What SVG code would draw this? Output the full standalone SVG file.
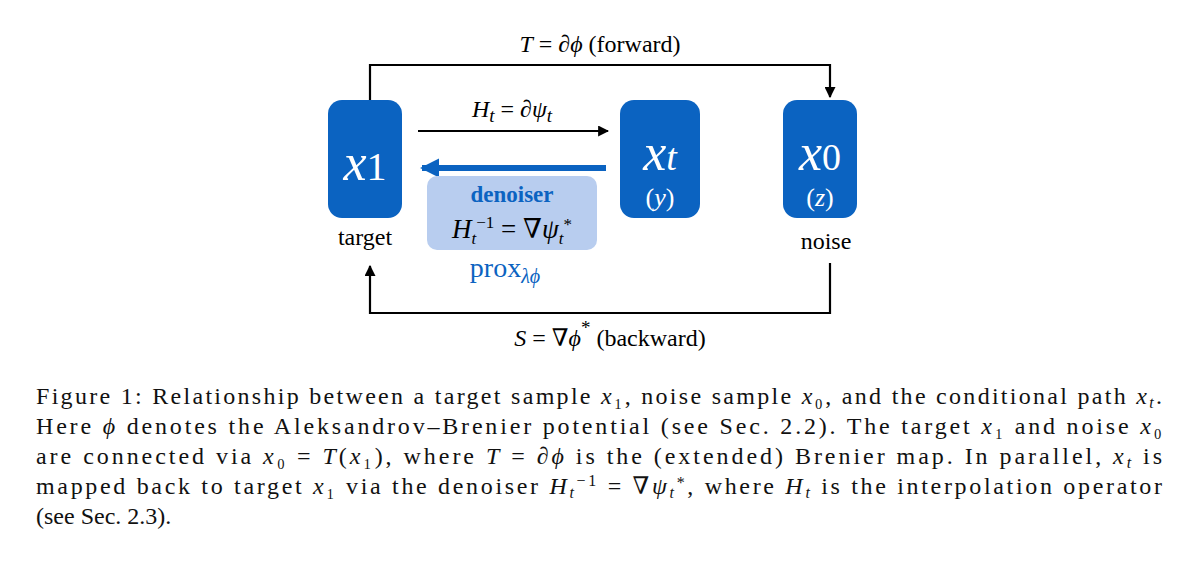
<svg xmlns="http://www.w3.org/2000/svg" width="1200" height="568" viewBox="0 0 1200 568">
<style>
.s{font-family:"Liberation Serif","DejaVu Serif",serif;}
.node{fill:#0b63c1;}
.big{font-family:"Liberation Serif","DejaVu Serif",serif;font-style:italic;font-size:52px;fill:#fff;}
.sub{font-family:"Liberation Serif",serif;font-size:26px;fill:#fff;}
.lab{font-size:24px;fill:#000;}
.cap{font-size:24px;fill:#111;}
.ln{fill:none;stroke:#000;stroke-width:2.2;}
</style>
<defs>
<marker id="ah" viewBox="0 0 10 10" refX="9" refY="5" markerWidth="5" markerHeight="5" orient="auto-start-reverse"><path d="M0,0L10,5L0,10z" fill="#000"/></marker>
<marker id="bh" viewBox="0 0 10 10" refX="9" refY="5" markerWidth="3.2" markerHeight="3.2" orient="auto"><path d="M0,0L10,5L0,10z" fill="#0b63c1"/></marker>
</defs>
<rect width="1200" height="568" fill="#fff"/>
<g id="connectors">
<path class="ln" d="M370,100V65H830V97" marker-end="url(#ah)"/>
<path class="ln" d="M830,263V313H370V266" marker-end="url(#ah)"/>
<path class="ln" d="M418,131H608" marker-end="url(#ah)"/>
<path d="M606,168H422" fill="none" stroke="#0b63c1" stroke-width="6" marker-end="url(#bh)"/>
</g>
<g id="labels" class="s">
<text x="600" y="52" text-anchor="middle" class="lab" font-size="30"><tspan font-style="italic">T</tspan> = ∂<tspan font-style="italic">ϕ</tspan>   <tspan font-size="24">(forward)</tspan></text>
<text x="512" y="117" text-anchor="middle" class="lab" font-size="28"><tspan font-style="italic">H</tspan><tspan font-style="italic" font-size="19" dy="5">t</tspan><tspan dy="-5"> = ∂</tspan><tspan font-style="italic">ψ</tspan><tspan font-style="italic" font-size="19" dy="5">t</tspan></text>
<text x="610" y="346" text-anchor="middle" class="lab" font-size="30"><tspan font-style="italic">S</tspan> = ∇<tspan font-style="italic">ϕ</tspan><tspan font-size="19" dy="-12">*</tspan><tspan dy="12" font-size="24">  (backward)</tspan></text>
</g>
<g id="n1"><rect class="node" x="328" y="100" width="74" height="118" rx="14"/><text x="365" y="180" text-anchor="middle" class="big">x<tspan font-style="normal" font-size="40">1</tspan></text><text x="365" y="245" text-anchor="middle" class="s lab">target</text></g>
<g id="nt"><rect class="node" x="620" y="100" width="80" height="118" rx="14"/><text x="660" y="170" text-anchor="middle" class="big">x<tspan font-size="38">t</tspan></text><text x="660" y="206" text-anchor="middle" class="sub">(<tspan font-style="italic">y</tspan>)</text></g>
<g id="n0"><rect class="node" x="783" y="100" width="74" height="118" rx="14"/><text x="820" y="170" text-anchor="middle" class="big">x<tspan font-style="normal" font-size="38">0</tspan></text><text x="820" y="206" text-anchor="middle" class="sub">(<tspan font-style="italic">z</tspan>)</text><text x="826" y="249" text-anchor="middle" class="s lab">noise</text></g>
<g id="denoiser"><rect x="427" y="176" width="170" height="74" rx="10" fill="#b8cdef"/>
<text x="512" y="202" text-anchor="middle" class="s" font-size="23" font-weight="bold" fill="#0b63c1">denoiser</text>
<text x="512" y="238" text-anchor="middle" class="s" font-size="27"><tspan font-style="italic">H</tspan><tspan font-style="italic" font-size="17" dy="6">t</tspan><tspan font-size="17" dy="-16">−1</tspan><tspan dy="10"> = ∇</tspan><tspan font-style="italic">ψ</tspan><tspan font-style="italic" font-size="17" dy="6">t</tspan><tspan font-size="17" dy="-14">*</tspan></text>
<text x="505" y="277" text-anchor="middle" class="s" font-size="28" fill="#0b63c1">prox<tspan font-style="italic" font-size="20" dy="6">λϕ</tspan></text></g>
<g id="caption" class="s cap">
<text x="36" y="404" textLength="1126" lengthAdjust="spacing">Figure 1: Relationship between a target sample <tspan font-style="italic">x</tspan>₁, noise sample <tspan font-style="italic">x</tspan>₀, and the conditional path <tspan font-style="italic">x<tspan font-size="16" dy="4">t</tspan></tspan><tspan dy="-4">.</tspan></text>
<text x="36" y="434" textLength="1126" lengthAdjust="spacing">Here <tspan font-style="italic">ϕ</tspan> denotes the Aleksandrov–Brenier potential (see Sec. 2.2). The target <tspan font-style="italic">x</tspan>₁ and noise <tspan font-style="italic">x</tspan>₀</text>
<text x="36" y="464" textLength="1126" lengthAdjust="spacing">are connected via <tspan font-style="italic">x</tspan>₀ = <tspan font-style="italic">T</tspan>(<tspan font-style="italic">x</tspan>₁), where <tspan font-style="italic">T</tspan> = ∂<tspan font-style="italic">ϕ</tspan> is the (extended) Brenier map. In parallel, <tspan font-style="italic">x<tspan font-size="16" dy="4">t</tspan></tspan><tspan dy="-4"> is</tspan></text>
<text x="36" y="494" textLength="1126" lengthAdjust="spacing">mapped back to target <tspan font-style="italic">x</tspan>₁ via the denoiser <tspan font-style="italic">H<tspan font-size="16" dy="4">t</tspan></tspan><tspan font-size="16" dy="-12">−1</tspan><tspan dy="8"> = ∇</tspan><tspan font-style="italic">ψ<tspan font-size="16" dy="4">t</tspan></tspan><tspan font-size="16" dy="-10">*</tspan><tspan dy="6">, where </tspan><tspan font-style="italic">H<tspan font-size="16" dy="4">t</tspan></tspan><tspan dy="-4"> is the interpolation operator</tspan></text>
<text x="36" y="524">(see Sec. 2.3).</text>
</g>
</svg>
